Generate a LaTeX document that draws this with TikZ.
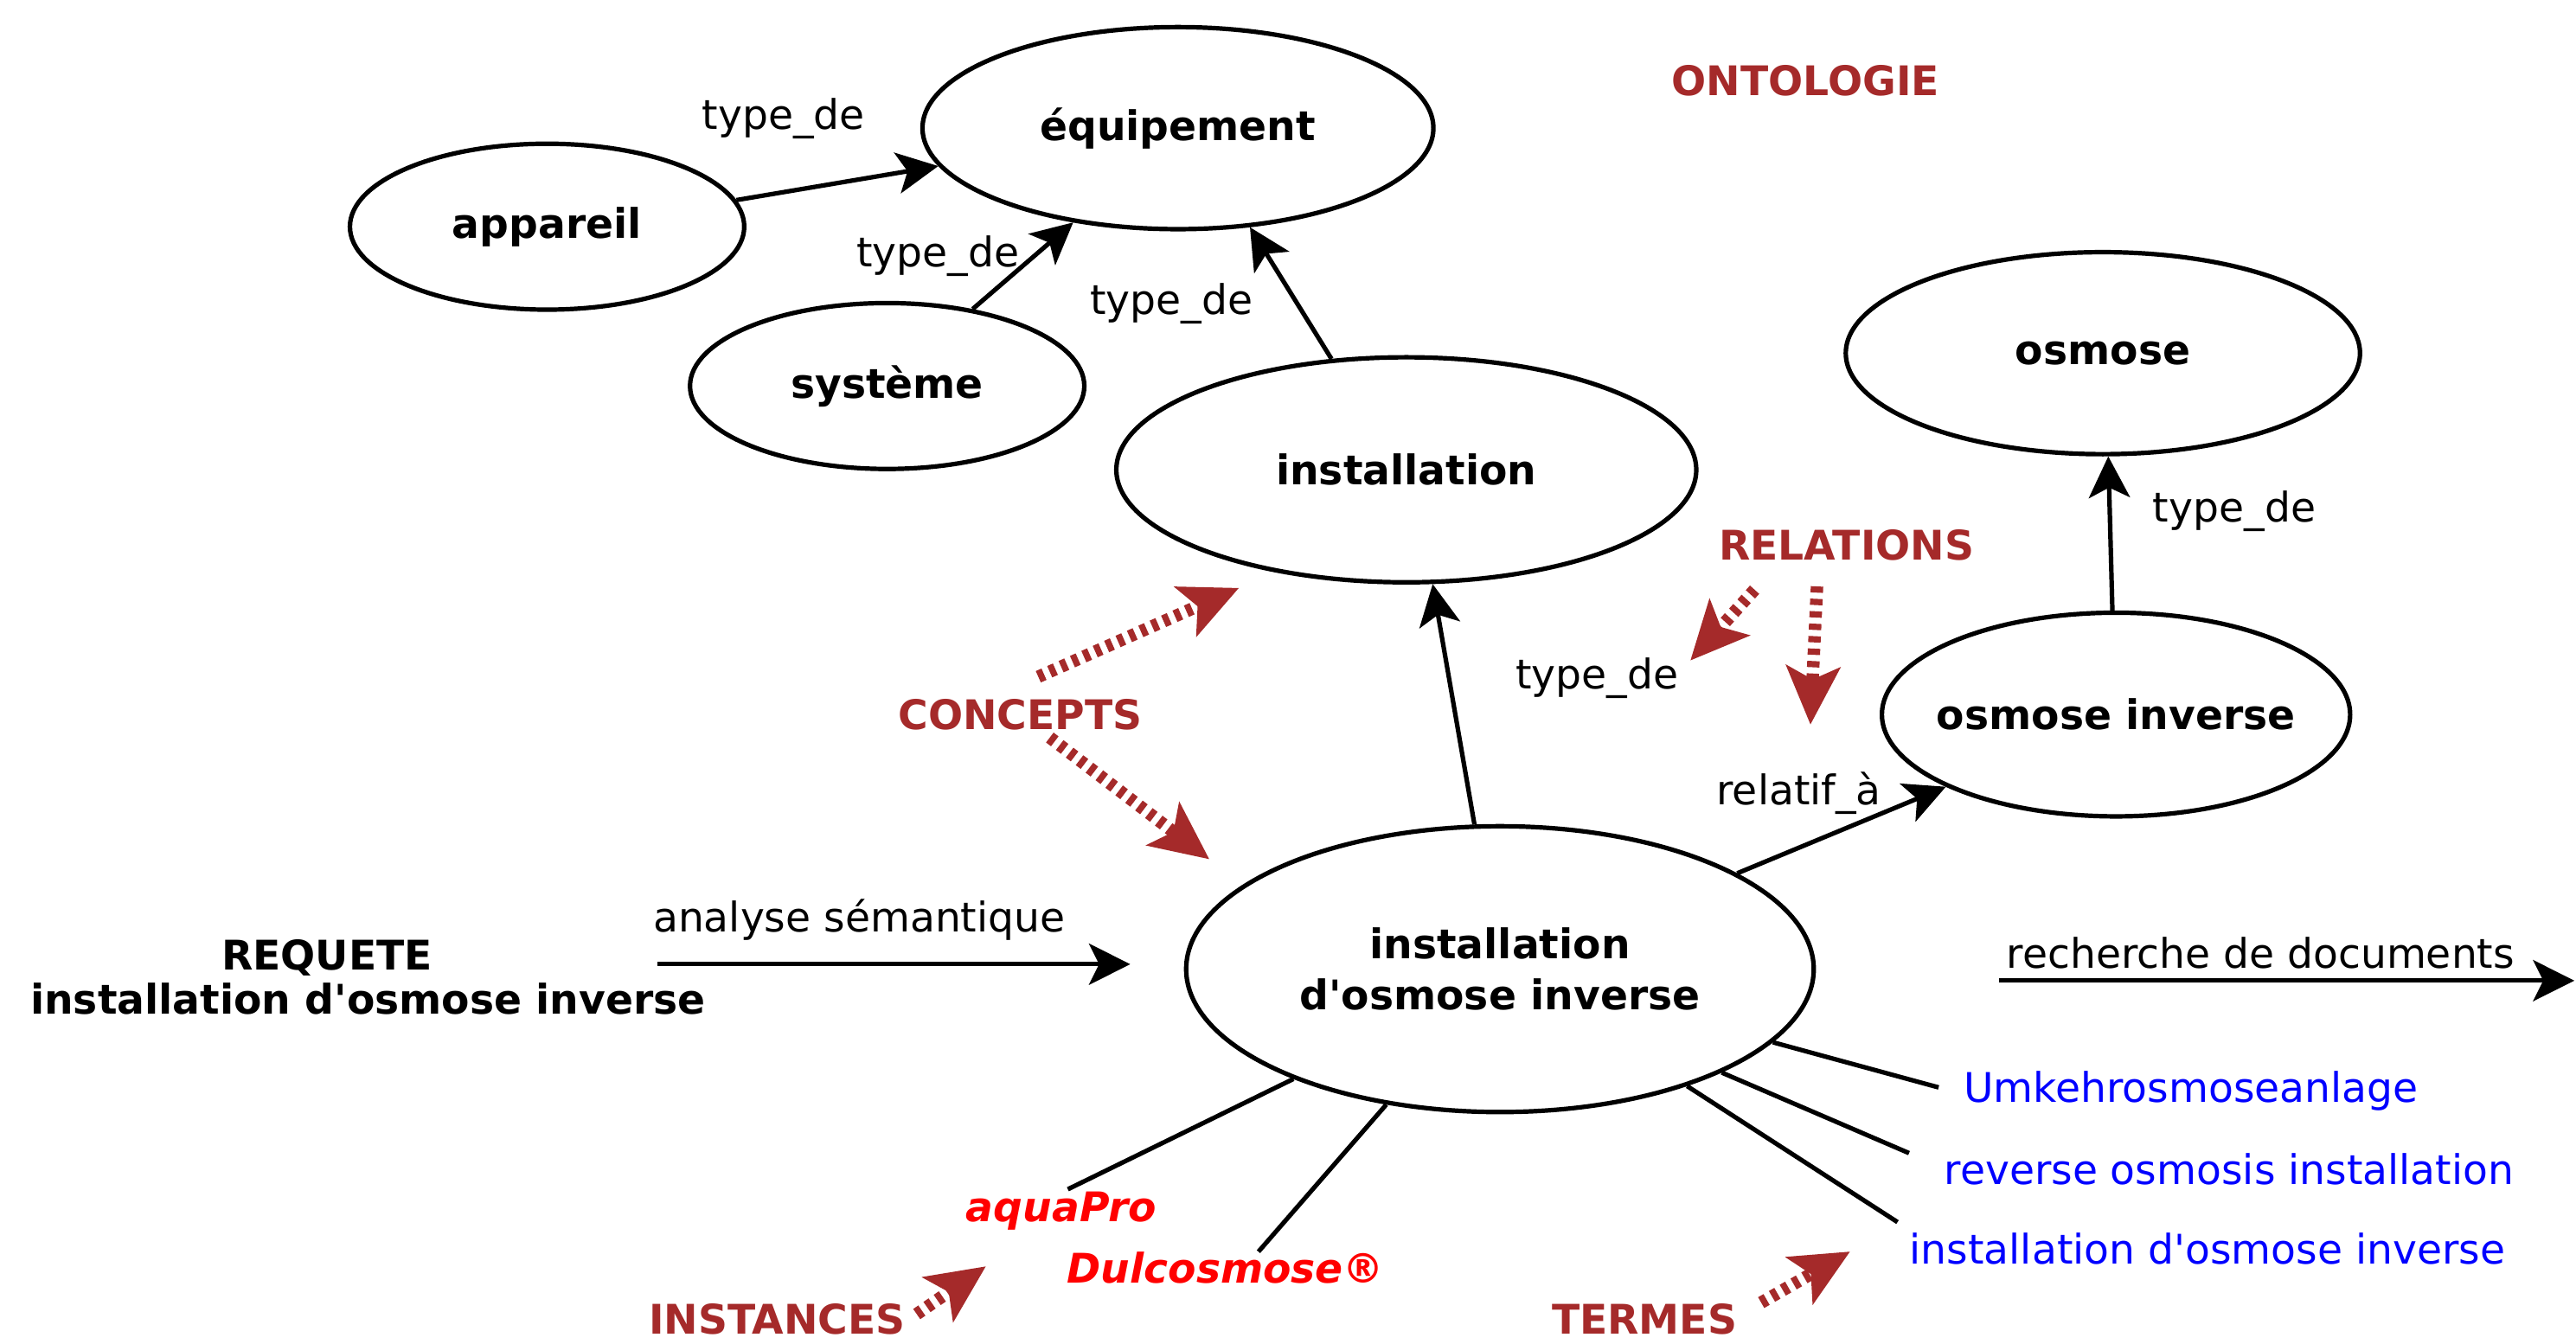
\documentclass[tikz,border=0pt]{standalone}
\usepackage{fontspec}
\setmainfont{DejaVu Sans}[Ligatures=TeXOff]
\usetikzlibrary{shapes.geometric,arrows.meta}
\definecolor{ontored}{RGB}{165,42,42}
\definecolor{termblue}{RGB}{0,0,255}
\definecolor{instred}{RGB}{255,0,0}
\begin{document}
\begin{tikzpicture}[x=0.4748pt,y=-0.4748pt,
  every node/.style={font=\fontsize{11.8}{14.6}\selectfont, inner sep=0pt},
  concept/.style 2 args={ellipse, draw, line width=1.3pt,
    minimum width=#1*0.4748pt, minimum height=#2*0.4748pt,
    font=\fontsize{11.8}{14.6}\selectfont\bfseries, align=center},
  rel/.style={line width=1.3pt, -{Stealth[length=12pt,width=12pt,inset=3pt,line width=0.5pt]}},
  spoke/.style={line width=1.3pt},
  tag/.style={text=ontored, font=\fontsize{11.8}{14.6}\selectfont\bfseries},
  hint/.style={draw=ontored, line width=3.6pt, dash pattern=on 1.8pt off 1.8pt,
    -{Stealth[length=17pt,width=16pt,inset=4pt,line width=0.4pt,fill=ontored]}},
  term/.style={text=termblue, anchor=west},
  inst/.style={text=instred, font=\fontsize{11.8}{14.6}\selectfont\bfseries\itshape}
]
\useasboundingbox (0,0) rectangle (1568,818);

% concepts of the ontology
\node[concept={311}{123}] (equip) at (717,78) {équipement};
\node[concept={240}{101}] (app) at (333,138) {appareil};
\node[concept={240}{101}] (sys) at (540,235) {système};
\node[concept={353}{137}] (inst) at (856,286) {installation};
\node[concept={313}{123}] (osm) at (1280,215) {osmose};
\node[concept={285}{124}, inner xsep=-8pt] (osmi) at (1288,435) {osmose inverse};
\node[concept={382}{174}] (iodi) at (913,590) {installation\\d'osmose inverse};

% relations between concepts
\draw[rel] (app.8.5) -- (equip.-171);
\draw[rel] (sys.42) -- (equip.-138);
\draw[rel] (inst.124) -- (equip.-54);
\draw[rel] (iodi.100) -- (inst.-77);
\draw[rel] (iodi.22.6) -- (osmi.-157);
\draw[rel] (osmi.92) -- (osm.-87);

\node (t1) at (477,72) {type\_de};
\node (t2) at (571,156) {type\_de};
\node (t3) at (713,185) {type\_de};
\node (t4) at (1360,311) {type\_de};
\node (t5) at (972,413) {type\_de};
\node (t6) at (1095,483) {relatif\_à};

% query and search
\node[font=\fontsize{11.8}{12}\selectfont\bfseries] (req) at (199,583) {REQUETE};
\node[font=\fontsize{11.8}{12}\selectfont\bfseries] (reqt) at (224,608) {installation d'osmose inverse};
\coordinate (qa) at (400,587);
\coordinate (qb) at (688,587);
\draw[rel] (qa) -- (qb);
\node (ana) at (523,560) {analyse sémantique};
\coordinate (ra) at (1217,597);
\coordinate (rb) at (1567,597);
\draw[rel] (ra) -- (rb);
\node (rech) at (1376,580) {recherche de documents};

% terms and instances
\node[term] (umk) at (1195,664) {Umkehrosmoseanlage};
\node[term] (rev) at (1183,712) {reverse osmosis installation};
\node[term] (fr) at (1162,760) {installation d'osmose inverse};
\node[inst] (aqua) at (646,737) {aquaPro};
\node[inst] (dulco) at (746,772) {Dulcosmose®};
\coordinate (e1) at (1180,662);
\coordinate (e2) at (1162,702);
\coordinate (e3) at (1155,744);
\coordinate (e4) at (766,762);
\coordinate (e5) at (650,724);
\draw[spoke] (iodi.-15.4) -- (e1);
\draw[spoke] (iodi.-25) -- (e2);
\draw[spoke] (iodi.-32.5) -- (e3);
\draw[spoke] (iodi.-130) -- (e4);
\draw[spoke] (iodi.-152.4) -- (e5);

% category labels
\node[tag] (onto) at (1099,49) {ONTOLOGIE};
\node[tag] (rels) at (1124,332) {RELATIONS};
\node[tag] (conc) at (621,435) {CONCEPTS};
\node[tag] (insts) at (473,803) {INSTANCES};
\node[tag] (terms) at (1001,803) {TERMES};

\coordinate (h1a) at (632,412); \coordinate (h1b) at (754,358);
\coordinate (h2a) at (639,449); \coordinate (h2b) at (736,523);
\coordinate (h3a) at (1068,359); \coordinate (h3b) at (1029,402);
\coordinate (h4a) at (1106,357); \coordinate (h4b) at (1102,441);
\coordinate (h5a) at (558,800); \coordinate (h5b) at (600,771);
\coordinate (h6a) at (1072,793); \coordinate (h6b) at (1126,762);
\draw[hint] (h1a) -- (h1b);
\draw[hint] (h2a) -- (h2b);
\draw[hint] (h3a) -- (h3b);
\draw[hint] (h4a) -- (h4b);
\draw[hint] (h5a) -- (h5b);
\draw[hint] (h6a) -- (h6b);
\end{tikzpicture}
\end{document}
